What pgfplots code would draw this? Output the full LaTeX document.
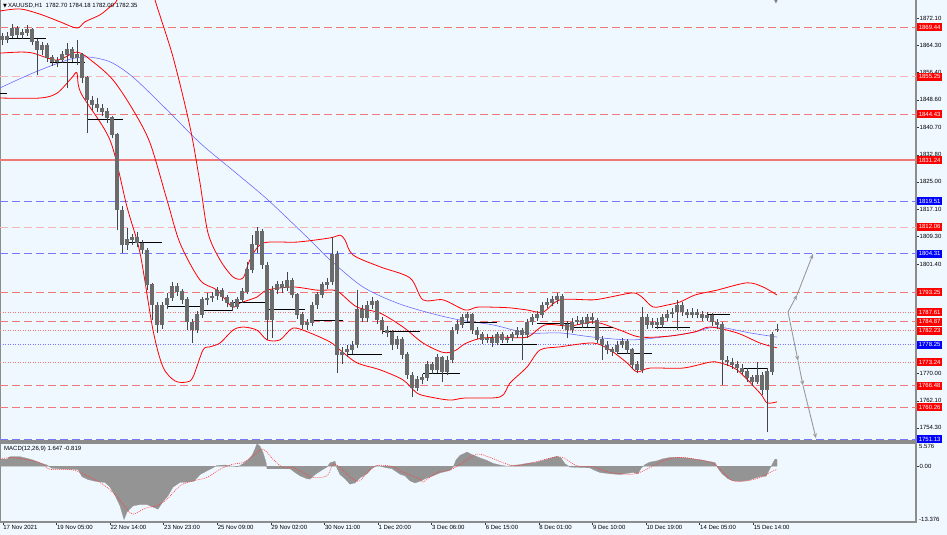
\documentclass[border=0pt]{standalone}
\usepackage{pgfplots}
\usepackage{pgfplotstable}
\pgfplotsset{compat=1.18}
\usepackage{fontspec}
\setmainfont{Liberation Sans}
\newfontfamily\dejavu{DejaVu Sans}
\usetikzlibrary{arrows.meta}
\definecolor{bgc}{RGB}{240,248,255}
\definecolor{lvlred}{RGB}{240,120,120}
\definecolor{lvlblue}{RGB}{120,120,255}
\definecolor{candle}{RGB}{70,70,70}
\definecolor{framec}{RGB}{140,140,140}
\definecolor{maBlue}{RGB}{100,100,255}
\newcommand{\tf}{\fontsize{6}{7}\selectfont}

\pgfplotstableread{
x o h l c
2 1866.9 1867.8 1864.3 1865.8
7 1865.8 1868.0 1865.0 1866.9
12 1866.9 1870.4 1866.3 1869.2
17 1869.2 1869.8 1866.4 1867.2
22 1867.2 1868.9 1866.0 1867.8
27 1867.8 1870.1 1867.0 1868.7
32 1868.7 1869.2 1864.3 1865.2
37 1865.2 1866.0 1855.7 1862.9
42 1862.9 1865.2 1861.5 1864.3
47 1864.3 1865.0 1859.5 1860.6
52 1860.6 1861.5 1858.3 1859.5
57 1859.5 1861.0 1858.0 1860.0
62 1860.0 1862.6 1859.2 1861.5
67 1861.5 1864.9 1852.0 1862.9
72 1862.9 1863.8 1859.5 1860.6
77 1860.6 1865.8 1858.6 1861.5
82 1861.5 1862.0 1853.5 1854.9
87 1854.9 1855.5 1839.1 1848.5
92 1848.5 1849.8 1845.8 1847.1
97 1847.1 1849.1 1845.0 1846.2
102 1846.2 1847.5 1843.8 1845.1
107 1845.1 1846.2 1842.0 1843.4
112 1843.4 1844.0 1837.5 1838.5
117 1838.5 1839.0 1811.2 1816.9
122 1816.9 1818.0 1804.6 1806.9
127 1806.9 1811.8 1805.5 1808.3
132 1808.3 1810.0 1806.9 1808.9
137 1808.9 1810.6 1806.2 1807.4
142 1807.4 1808.3 1804.2 1805.4
147 1805.4 1806.0 1794.0 1795.4
152 1795.4 1796.0 1785.3 1789.6
157 1789.6 1790.5 1781.6 1783.9
162 1783.9 1790.6 1782.8 1789.6
167 1789.6 1793.0 1788.5 1791.6
172 1791.6 1796.2 1790.8 1794.8
177 1794.8 1796.0 1792.2 1793.4
182 1793.4 1794.2 1789.8 1791.1
187 1791.1 1791.8 1782.4 1784.7
192 1784.7 1785.6 1778.7 1782.4
197 1782.4 1787.8 1781.5 1786.8
202 1786.8 1792.0 1786.0 1791.1
207 1791.1 1793.0 1789.5 1791.6
212 1791.6 1793.5 1790.5 1792.2
217 1792.2 1794.8 1791.0 1793.9
222 1793.9 1794.6 1790.8 1791.9
227 1791.9 1792.6 1789.0 1790.2
232 1790.2 1791.0 1787.8 1789.1
237 1789.1 1792.0 1788.4 1791.1
242 1791.1 1794.4 1790.2 1793.4
247 1793.4 1802.0 1792.8 1799.7
252 1799.7 1809.7 1798.8 1806.9
257 1806.9 1812.0 1804.5 1810.6
262 1810.6 1811.5 1800.0 1801.1
267 1801.1 1802.0 1779.6 1785.3
272 1785.3 1795.0 1780.1 1793.9
277 1793.9 1796.5 1792.8 1795.4
282 1795.4 1796.4 1793.0 1794.5
287 1794.5 1799.1 1793.6 1796.8
292 1796.8 1797.5 1791.5 1792.5
297 1792.5 1793.2 1785.6 1786.8
302 1786.8 1787.5 1782.8 1783.9
307 1783.9 1785.6 1782.4 1784.5
312 1784.5 1790.6 1783.6 1789.6
317 1789.6 1793.5 1788.6 1792.5
322 1792.5 1796.3 1791.6 1795.4
327 1795.4 1797.4 1794.2 1796.2
332 1796.2 1809.2 1795.4 1804.0
337 1804.0 1805.0 1770.1 1775.3
342 1775.3 1777.5 1772.8 1776.1
347 1776.1 1778.0 1774.6 1776.7
352 1776.7 1779.2 1775.5 1778.1
357 1778.1 1793.9 1777.2 1788.2
362 1788.2 1789.5 1784.6 1785.9
367 1785.9 1790.8 1784.8 1789.6
372 1789.6 1791.9 1788.4 1790.5
377 1790.5 1791.2 1784.2 1785.3
382 1785.3 1786.2 1781.2 1782.4
387 1782.4 1783.6 1780.4 1781.6
392 1781.6 1782.4 1776.8 1778.1
397 1778.1 1780.8 1777.0 1779.6
402 1779.6 1780.4 1774.0 1775.3
407 1775.3 1776.0 1768.3 1769.5
412 1769.5 1770.4 1763.2 1765.8
417 1765.8 1769.2 1764.8 1768.1
422 1768.1 1769.8 1766.8 1768.7
427 1768.7 1773.4 1767.9 1772.4
432 1772.4 1773.2 1769.8 1771.0
437 1771.0 1775.5 1770.2 1774.4
442 1774.4 1775.0 1767.5 1770.4
447 1770.4 1775.0 1769.4 1773.8
452 1773.8 1783.4 1773.0 1782.4
457 1782.4 1785.3 1781.4 1783.9
462 1783.9 1787.0 1783.0 1785.9
467 1785.9 1787.6 1784.8 1786.8
472 1786.8 1787.4 1781.4 1782.4
477 1782.4 1783.2 1779.8 1781.0
482 1781.0 1781.8 1778.4 1779.6
487 1779.6 1781.2 1778.8 1780.1
492 1780.1 1781.0 1777.6 1778.7
497 1778.7 1782.0 1778.0 1781.0
502 1781.0 1782.0 1778.6 1779.6
507 1779.6 1781.0 1778.6 1780.1
512 1780.1 1782.0 1779.2 1781.0
517 1781.0 1783.4 1780.2 1782.4
522 1782.4 1783.0 1773.8 1781.0
527 1781.0 1785.6 1780.2 1784.7
532 1784.7 1787.0 1783.8 1785.9
537 1785.9 1788.0 1785.0 1786.8
542 1786.8 1790.6 1786.0 1789.6
547 1789.6 1791.6 1788.8 1790.2
552 1790.2 1792.2 1789.2 1791.1
557 1791.1 1793.1 1790.0 1792.2
562 1792.2 1792.8 1782.8 1783.9
567 1783.9 1785.0 1780.1 1782.4
572 1782.4 1785.8 1781.6 1784.7
577 1784.7 1786.4 1783.8 1785.3
582 1785.3 1786.2 1783.0 1784.2
587 1784.2 1787.0 1783.4 1785.9
592 1785.9 1787.3 1784.2 1785.3
597 1785.3 1786.0 1778.6 1779.6
602 1779.6 1780.6 1773.8 1778.1
607 1778.1 1779.2 1775.5 1776.7
612 1776.7 1777.6 1775.0 1776.1
617 1776.1 1779.2 1775.4 1778.1
622 1778.1 1780.0 1777.2 1779.0
627 1779.0 1779.8 1775.6 1776.7
632 1776.7 1777.4 1771.2 1772.4
637 1772.4 1773.4 1770.0 1771.0
642 1771.0 1789.1 1770.2 1785.9
647 1785.9 1787.0 1782.8 1783.9
652 1783.9 1785.8 1783.0 1784.7
657 1784.7 1786.0 1782.8 1783.9
662 1783.9 1787.0 1783.0 1785.9
667 1785.9 1788.2 1785.0 1787.0
672 1787.0 1788.8 1786.0 1787.6
677 1787.6 1791.1 1782.4 1789.6
682 1789.6 1790.4 1786.6 1787.6
687 1787.6 1788.6 1785.8 1786.8
692 1786.8 1788.8 1785.8 1787.6
697 1787.6 1788.6 1785.8 1786.8
702 1786.8 1787.8 1785.0 1785.9
707 1785.9 1787.6 1785.0 1786.5
712 1786.5 1787.2 1783.6 1784.7
717 1784.7 1785.6 1782.8 1783.9
722 1783.9 1784.6 1766.6 1773.8
727 1773.8 1775.0 1772.0 1773.2
732 1773.2 1774.4 1771.2 1772.4
737 1772.4 1773.6 1770.2 1771.5
742 1771.5 1772.6 1769.8 1770.4
747 1770.4 1771.4 1767.6 1768.7
752 1768.7 1769.6 1766.4 1767.5
757 1767.5 1773.2 1767.0 1769.5
762 1769.5 1770.5 1763.8 1765.2
767 1765.2 1771.4 1753.1 1770.4
772 1770.4 1782.0 1769.4 1781.0
777 1782.7 1784.18 1782.0 1782.35
}\candles

\begin{document}
\begin{tikzpicture}[
  lbl/.style={anchor=west, text=white, font=\tf, inner xsep=1.8pt, inner ysep=0pt, minimum height=8pt, xshift=0.8pt}]
\fill[bgc] (0pt,0pt) rectangle (947pt,-535pt);
% ---------------- main price panel ----------------
\begin{axis}[
  at={(0pt,3pt)}, anchor=north west,
  width=916pt, height=444pt, scale only axis,
  xmin=0, xmax=916, ymin=1750.54, ymax=1878.13,
  axis background/.style={fill=bgc},
  axis line style={framec, line width=1.3pt},
  xtick=\empty,
  ytick={1872.10,1864.30,1856.40,1848.60,1840.70,1832.80,1825.00,1817.10,1809.30,1801.40,1770.00,1762.10,1754.30},
  yticklabels={1872.10,1864.30,1856.40,1848.60,1840.70,1832.80,1825.00,1817.10,1809.30,1801.40,1770.00,1762.10,1754.30},
  ytick pos=right, yticklabel pos=right,
  tick align=outside, major tick length=2.5pt,
  ytick style={black!80, line width=0.4pt},
  yticklabel style={font=\tf, inner sep=1pt},
  clip mode=individual,
  unbounded coords=jump,
]
% level lines
\addplot[lvlred, line width=0.8pt, dash pattern=on 8pt off 4pt] coordinates {(0,1869.44) (916,1869.44)};
\addplot[lvlred!55, line width=0.8pt, dash pattern=on 8pt off 4pt] coordinates {(0,1855.25) (916,1855.25)};
\addplot[lvlred, line width=0.8pt, dash pattern=on 8pt off 4pt] coordinates {(0,1844.43) (916,1844.43)};
\addplot[lvlred, line width=1.4pt] coordinates {(0,1831.24) (916,1831.24)};
\addplot[lvlblue, line width=0.8pt, dash pattern=on 8pt off 4pt] coordinates {(0,1819.51) (916,1819.51)};
\addplot[lvlred!55, line width=0.8pt, dash pattern=on 8pt off 4pt] coordinates {(0,1812.06) (916,1812.06)};
\addplot[lvlblue, line width=0.8pt, dash pattern=on 8pt off 4pt] coordinates {(0,1804.31) (916,1804.31)};
\addplot[lvlred, line width=0.8pt, dash pattern=on 8pt off 4pt] coordinates {(0,1793.25) (916,1793.25)};
\addplot[lvlred, line width=0.6pt, dash pattern=on 1pt off 1.5pt] coordinates {(0,1787.61) (916,1787.61)};
\addplot[lvlred, line width=0.8pt, dash pattern=on 8pt off 4pt] coordinates {(0,1784.87) (916,1784.87)};
\addplot[lvlred, line width=0.6pt, dash pattern=on 1pt off 1.5pt] coordinates {(0,1782.23) (916,1782.23)};
\addplot[lvlblue, line width=0.6pt, dash pattern=on 1pt off 1.5pt] coordinates {(0,1778.25) (916,1778.25)};
\addplot[lvlred, line width=0.6pt, dash pattern=on 1pt off 1.5pt] coordinates {(0,1773.24) (916,1773.24)};
\addplot[lvlred, line width=0.8pt, dash pattern=on 8pt off 4pt] coordinates {(0,1766.48) (916,1766.48)};
\addplot[lvlred, line width=0.8pt, dash pattern=on 8pt off 4pt] coordinates {(0,1760.26) (916,1760.26)};
\addplot[lvlblue, line width=0.8pt, dash pattern=on 8pt off 4pt] coordinates {(0,1751.13) (916,1751.13)};
% moving average (blue)
\addplot[maBlue, line width=0.55pt, smooth] coordinates {
(0,1852.0) (33,1856.3) (67,1860.0) (87,1860.9) (110,1859.5) (133,1855.1) (167,1845.7) (200,1836.2) (235,1827.8) (268,1819.8) (310,1808.3) (330,1802.6) (363,1794.8) (397,1790.2) (430,1787.3) (460,1785.3) (493,1783.9) (527,1781.6) (560,1781.6) (593,1780.4) (627,1779.6) (647,1779.9) (677,1781.0) (695,1781.9) (717,1783.3) (750,1781.6) (777,1780.4)};
% Bollinger upper
\addplot[red, line width=0.8pt, smooth] coordinates {
(0,1874.1) (20,1874.7) (40,1873.2) (60,1871.0) (77,1869.2) (85,1871.0) (100,1873.0) (110,1875.3) (117,1877.3) (125,1886) (140,1892) (150,1884) (155,1877.3) (173,1860.9) (190,1840.8) (200,1824.7) (208,1810.3) (220,1802.6) (233,1797.7) (243,1797.4) (250,1802.6) (263,1807.4) (297,1807.7) (330,1808.9) (340,1809.7) (345,1808.3) (353,1804.0) (380,1800.6) (410,1797.4) (423,1791.1) (443,1791.1) (465,1788.2) (477,1789.0) (493,1789.0) (510,1788.8) (527,1788.2) (543,1787.6) (560,1791.1) (593,1791.1) (610,1791.9) (633,1793.1) (642,1791.9) (653,1789.05) (667,1789.6) (680,1790.5) (695,1792.5) (717,1793.9) (747,1796.0) (763,1794.8) (777,1792.5)};
% Bollinger middle
\addplot[red, line width=0.8pt, smooth] coordinates {
(0,1862.0) (20,1862.3) (33,1862.0) (57,1860.0) (77,1862.3) (93,1859.5) (113,1854.3) (133,1845.7) (150,1836.2) (167,1819.8) (180,1807.4) (200,1796.8) (217,1793.9) (232,1789.1) (240,1790.2) (257,1791.9) (267,1793.9) (293,1794.8) (317,1793.9) (333,1793.9) (340,1793.1) (357,1789.05) (380,1787.3) (403,1783.3) (423,1778.7) (443,1776.0) (455,1776.5) (465,1778.5) (480,1780.0) (500,1780.4) (527,1780.4) (545,1783.9) (570,1783.6) (595,1784.7) (620,1782.4) (640,1780.4) (670,1780.7) (695,1781.9) (710,1783.3) (737,1781.6) (760,1778.7) (777,1777.3)};
% Bollinger lower
\addplot[red, line width=0.8pt, smooth] coordinates {
(0,1849.1) (40,1849.1) (57,1850.5) (72,1855.0) (77,1856.3) (81,1850.5) (110,1837.0) (127,1817.8) (140,1804.6) (153,1782.4) (163,1771.8) (175,1767.8) (187,1767.5) (193,1768.9) (203,1776.7) (210,1777.6) (220,1778.7) (233,1782.4) (243,1783.3) (257,1782.4) (267,1779.6) (280,1779.6) (293,1783.0) (310,1781.6) (330,1779.0) (340,1776.7) (357,1773.0) (380,1771.0) (403,1768.1) (417,1764.3) (430,1763.2) (450,1762.3) (465,1762.9) (500,1763.2) (510,1767.2) (527,1771.8) (540,1776.7) (560,1777.6) (593,1778.7) (610,1776.7) (627,1773.0) (637,1770.4) (650,1771.5) (683,1771.5) (710,1773.2) (720,1773.0) (737,1771.0) (760,1764.3) (767,1761.5) (777,1761.8)};
% day open segments
\addplot[black, line width=0.8pt] coordinates {
(0,1850.5) (7,1850.5) (7,nan)
(7,1866.35) (46,1866.35) (46,nan)
(50,1859.2) (85,1859.2) (85,nan)
(88,1843.1) (123,1843.1) (123,nan)
(127,1807.7) (162,1807.7) (162,nan)
(167,1789.3) (200,1789.3) (200,nan)
(203,1788.2) (233,1788.2) (233,nan)
(233,1790.5) (265,1790.5) (265,nan)
(268,1788.5) (305,1788.5) (305,nan)
(310,1785.3) (343,1785.3) (343,nan)
(347,1775.3) (382,1775.3) (382,nan)
(383,1781.9) (420,1781.9) (420,nan)
(423,1770.1) (460,1770.1) (460,nan)
(460,1784.7) (497,1784.7) (497,nan)
(500,1778.4) (537,1778.4) (537,nan)
(537,1784.2) (570,1784.2) (570,nan)
(570,1783.3) (613,1783.3) (613,nan)
(617,1775.8) (652,1775.8) (652,nan)
(655,1783.3) (690,1783.3) (690,nan)
(707,1787.0) (730,1787.0) (730,nan)
(740,1771.5) (768,1771.5)};
% candles: wicks
\addplot[draw=none, mark=none, error bars/.cd, y dir=plus, y explicit, error mark=none,
  error bar style={draw=candle, line width=0.7pt}]
  table[x=x, y=l, y error plus expr={\thisrow{h}-\thisrow{l}}] {\candles};
% candles: bodies
\addplot[draw=none, mark=none, error bars/.cd, y dir=plus, y explicit, error mark=none,
  error bar style={draw=candle!80, line width=3.1pt}]
  table[x=x, y expr={min(\thisrow{o},\thisrow{c})}, y error plus expr={abs(\thisrow{c}-\thisrow{o})+0.15}] {\candles};
% projection arrows
\addplot[gray!80, line width=0.9pt, -{Stealth[length=5pt,width=4pt]}] coordinates {(788,1787.6) (797,1792.5)};
\addplot[gray!80, line width=0.9pt, -{Stealth[length=5pt,width=4pt]}] coordinates {(797,1792.5) (813,1804.3)};
\addplot[gray!80, line width=0.9pt, -{Stealth[length=5pt,width=4pt]}] coordinates {(788,1787.6) (798,1773.6)};
\addplot[gray!80, line width=0.9pt, -{Stealth[length=5pt,width=4pt]}] coordinates {(798,1773.6) (803,1766.5)};
\addplot[gray!80, line width=0.9pt, -{Stealth[length=5pt,width=4pt]}] coordinates {(803,1766.5) (816,1751.3)};
% title
\node[anchor=west, font=\tf, inner sep=0pt] at (axis cs:3,1875.5) {{\dejavu\fontsize{5}{6}\selectfont ▼}\,XAUUSD,H1\ \ 1782.70 1784.18 1782.00 1782.35};
\node[anchor=north, font=\dejavu\fontsize{5}{5}\selectfont, text=gray, inner sep=0pt] at (axis cs:776,1877.3) {▼};
% coordinates for level labels
\coordinate (r1) at (axis cs:916,1869.44);
\coordinate (r2) at (axis cs:916,1855.25);
\coordinate (r3) at (axis cs:916,1844.43);
\coordinate (r4) at (axis cs:916,1831.24);
\coordinate (b1) at (axis cs:916,1819.51);
\coordinate (r5) at (axis cs:916,1812.06);
\coordinate (b2) at (axis cs:916,1804.31);
\coordinate (r6) at (axis cs:916,1793.25);
\coordinate (r7) at (axis cs:916,1787.61);
\coordinate (r8) at (axis cs:916,1784.87);
\coordinate (r9) at (axis cs:916,1782.23);
\coordinate (b3) at (axis cs:916,1778.25);
\coordinate (r10) at (axis cs:916,1773.24);
\coordinate (r11) at (axis cs:916,1766.48);
\coordinate (r12) at (axis cs:916,1760.26);
\coordinate (b4) at (axis cs:916,1751.13);
\end{axis}
\node[lbl, fill=red] at (r1) {1869.44};
\node[lbl, fill=red] at (r2) {1855.25};
\node[lbl, fill=red] at (r3) {1844.43};
\node[lbl, fill=red] at (r4) {1831.24};
\node[lbl, fill=blue] at (b1) {1819.51};
\node[lbl, fill=red] at (r5) {1812.06};
\node[lbl, fill=blue] at (b2) {1804.31};
\node[lbl, fill=red] at (r6) {1793.25};
\node[lbl, fill=red] at (r7) {1787.61};
\node[lbl, fill=red] at (r8) {1784.87};
\node[lbl, fill=red] at (r9) {1782.23};
\node[lbl, fill=blue] at (b3) {1778.25};
\node[lbl, fill=red] at (r10) {1773.24};
\node[lbl, fill=red] at (r11) {1766.48};
\node[lbl, fill=red] at (r12) {1760.26};
\node[lbl, fill=blue] at (b4) {1751.13};
% ---------------- MACD panel ----------------
\begin{axis}[
  at={(0pt,-443pt)}, anchor=north west,
  width=916pt, height=79pt, scale only axis,
  xmin=0, xmax=916, ymin=-13.376, ymax=5.576,
  axis background/.style={fill=bgc},
  axis line style={framec, line width=1.3pt},
  xtick={2.7,56.3,109.9,163.5,217.1,270.7,324.3,377.9,431.5,485.1,538.7,592.3,645.9,699.5,753.1},
  xticklabels={17 Nov 2021,19 Nov 05:00,22 Nov 14:00,23 Nov 23:00,25 Nov 09:00,29 Nov 02:00,30 Nov 11:00,1 Dec 20:00,3 Dec 06:00,6 Dec 15:00,8 Dec 01:00,9 Dec 10:00,10 Dec 19:00,14 Dec 05:00,15 Dec 14:00},
  xtick pos=left,
  xticklabel style={font=\tf, anchor=north west, inner sep=1pt, xshift=-0.5pt},
  ytick={0}, yticklabels={0.00},
  ytick pos=right, yticklabel pos=right,
  yticklabel style={font=\tf, inner sep=1pt},
  tick align=outside, major tick length=2.5pt,
  tick style={black!80, line width=0.4pt},
  clip mode=individual,
]
\addplot[fill=black!42, draw=black!42, line width=0.2pt] coordinates {
(0,1.7) (7,1.7) (10,2.3) (20,2.3) (27,1.9) (33,1.5) (40,0.8) (47,0.3) (52,-0.5) (67,-0.7) (78,-0.8) (82,-2.5) (88,-3.2) (95,-3.6) (105,-3.9) (110,-5.0) (115,-7.0) (120,-9.5) (124,-12.8) (127,-11.0) (133,-9.5) (140,-9.2) (147,-9.2) (153,-9.8) (158,-10.3) (163,-8.5) (168,-7.1) (173,-5.0) (180,-3.9) (187,-3.8) (194,-3.6) (200,-2.0) (207,-1.1) (212,-0.5) (217,0.2) (225,0.3) (233,0.0) (238,-0.1) (243,0.6) (248,1.5) (252,2.6) (255,4.2) (257,5.4) (260,4.8) (263,3.3) (266,1.0) (267,-0.6) (280,-0.6) (290,-0.6) (295,-1.5) (300,-2.3) (307,-3.0) (310,-3.1) (315,-2.0) (322,-0.9) (327,-0.2) (330,0.8) (335,1.2) (337,-0.5) (340,-2.0) (345,-3.0) (350,-4.3) (355,-4.0) (360,-2.8) (367,-1.8) (372,-0.5) (377,0.2) (385,-0.3) (392,-0.6) (400,-1.9) (405,-2.3) (410,-3.5) (415,-4.0) (420,-3.6) (427,-2.8) (433,-2.3) (440,-1.6) (450,-1.0) (453,-0.3) (456,1.5) (460,2.6) (467,3.4) (472,2.8) (480,2.0) (487,1.4) (493,0.7) (500,0.3) (507,0.0) (513,0.2) (520,0.4) (527,0.7) (535,0.9) (542,1.3) (550,1.9) (557,2.4) (561,2.0) (565,0.6) (570,-0.2) (580,-0.3) (590,-0.4) (595,-1.0) (600,-1.5) (610,-1.8) (620,-2.0) (627,-1.7) (633,-1.5) (638,-1.8) (641,-0.5) (645,0.4) (650,1.0) (657,1.3) (663,1.8) (670,2.1) (680,2.1) (687,2.0) (695,1.7) (702,1.5) (708,1.2) (715,0.9) (718,-0.5) (722,-1.8) (728,-3.0) (733,-3.5) (740,-3.6) (748,-3.4) (753,-3.0) (760,-2.5) (766,-2.4) (769,-1.0) (772,0.4) (775,1.7) (777,1.647)} \closedcycle;
\addplot[red!75, line width=0.6pt, dash pattern=on 1pt off 1pt, smooth] coordinates {
(0,1.68) (13,2.08) (40,0.88) (50,-0.72) (73,-0.88) (87,-2.3) (100,-3.9) (113,-6.3) (127,-10.3) (133,-11.5) (147,-9.9) (157,-9.5) (167,-7.9) (180,-4.7) (193,-3.5) (207,-2.7) (220,-0.7) (233,0.5) (243,0.9) (253,2.5) (263,4.1) (273,1.7) (283,-0.3) (293,-0.3) (303,-1.5) (313,-2.7) (327,-2.3) (333,0.5) (340,-0.3) (353,-3.1) (360,-3.5) (367,-1.5) (377,0.2) (393,-0.1) (400,-1.1) (420,-3.1) (423,-3.8) (437,-1.5) (450,-0.9) (463,0.9) (477,2.9) (490,2.1) (507,0.5) (517,0.1) (533,0.9) (553,2.1) (563,2.1) (577,0.1) (593,-0.1) (610,-1.5) (633,-1.9) (647,-0.7) (663,1.3) (677,2.1) (693,1.8) (713,0.7) (723,-1.5) (733,-3.5) (747,-3.5) (760,-2.7) (773,-1.1) (777,-0.82)};
\node[anchor=north west, font=\tf, inner sep=0pt] at (rel axis cs:0,1) [xshift=4pt, yshift=-3pt] {MACD(12,26,9) 1.647 -0.819};
\node[anchor=north west, font=\tf, inner sep=0pt] at (rel axis cs:1,1) [xshift=3pt, yshift=-1pt] {5.576};
\node[anchor=south west, font=\tf, inner sep=0pt] at (rel axis cs:1,0) [xshift=3pt, yshift=0pt] {-13.376};
\end{axis}
\pgfresetboundingbox
\useasboundingbox (0pt,0pt) rectangle (947pt,-535pt);
\end{tikzpicture}
\end{document}
